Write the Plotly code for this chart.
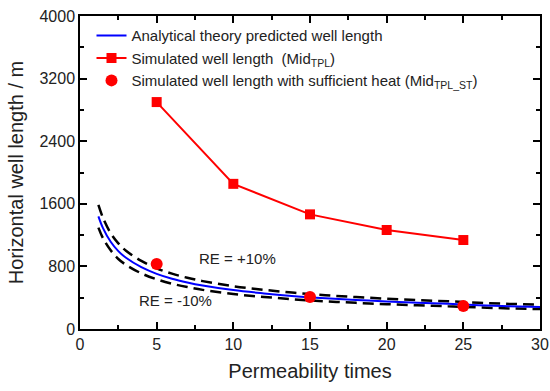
import plotly.graph_objects as go

# Analytical theory predicted well length
x_theory = [1.2, 1.5, 2, 2.5, 3, 4, 5, 6, 7, 8, 10, 12, 14, 16, 18, 20, 22, 24, 26, 28, 30]
y_theory = [1440, 1290, 1115, 995, 910, 790, 705, 643, 595, 556, 497, 455, 420, 393, 371, 352, 336, 322, 305, 292, 282]
# RE = +10% and RE = -10% bounds
y_upper = [1585, 1420, 1225, 1095, 1000, 870, 775, 707, 655, 612, 547, 500, 462, 432, 408, 387, 370, 354, 336, 321, 310]
y_lower = [1295, 1160, 1005, 895, 820, 711, 635, 579, 536, 500, 447, 410, 378, 354, 334, 317, 302, 290, 275, 263, 254]

# Simulated well length (Mid_TPL)
x_sim = [5, 10, 15, 20, 25]
y_sim = [2900, 1855, 1465, 1265, 1137]

# Simulated well length with sufficient heat (Mid_TPL_ST)
x_heat = [5, 15, 25]
y_heat = [832, 408, 295]

x_ticks = [0, 5, 10, 15, 20, 25, 30]
y_ticks = [0, 800, 1600, 2400, 3200, 4000]

FONT = "Arial, Liberation Sans, sans-serif"
TXT = "#222"

fig = go.Figure()
fig.add_trace(go.Scatter(x=x_theory, y=y_upper, mode="lines", line=dict(color="black", width=2.5, dash="11px,6px"),
                         line_shape="spline", showlegend=False, hoverinfo="skip"))
fig.add_trace(go.Scatter(x=x_theory, y=y_lower, mode="lines", line=dict(color="black", width=2.5, dash="11px,6px"),
                         line_shape="spline", showlegend=False, hoverinfo="skip"))
fig.add_trace(go.Scatter(x=x_theory, y=y_theory, mode="lines", line=dict(color="#0000ff", width=2),
                         line_shape="spline", name="Analytical theory predicted well length"))
fig.add_trace(go.Scatter(x=x_sim, y=y_sim, mode="lines+markers", line=dict(color="#ff0000", width=2),
                         marker=dict(symbol="square", size=10, color="#ff0000"),
                         name="Simulated well length  (Mid<sub>TPL</sub>)"))
fig.add_trace(go.Scatter(x=x_heat, y=y_heat, mode="markers",
                         marker=dict(symbol="circle", size=12, color="#ff0000"),
                         name="Simulated well length with sufficient heat (Mid<sub>TPL_ST</sub>)"))

fig.add_annotation(x=10.3, y=895, text="RE = +10%", showarrow=False, font=dict(size=15, color=TXT, family=FONT))
fig.add_annotation(x=6.2, y=362, text="RE = -10%", showarrow=False, font=dict(size=15, color=TXT, family=FONT))

axis_common = dict(showline=True, linecolor="black", linewidth=1.5, mirror="allticks", ticks="inside",
                   ticklen=7, tickwidth=1.5, tickcolor="black", showgrid=False, zeroline=False, automargin=False,
                   tickfont=dict(size=16, color=TXT, family=FONT))
fig.update_xaxes(range=[0, 30], tickvals=x_ticks, ticktext=[str(v) for v in x_ticks],
                 minor=dict(dtick=2.5, ticks="inside", ticklen=4, tickwidth=1.5, tickcolor="black", showgrid=False),
                 title=dict(text="Permeability times", font=dict(size=20, color=TXT, family=FONT), standoff=12),
                 **axis_common)
fig.update_yaxes(range=[0, 4000], tickvals=y_ticks, ticktext=[str(v) for v in y_ticks],
                 minor=dict(dtick=400, ticks="inside", ticklen=4, tickwidth=1.5, tickcolor="black", showgrid=False),
                 title=dict(text="Horizontal well length / m", font=dict(size=20, color=TXT, family=FONT), standoff=10),
                 **axis_common)

fig.update_layout(width=550, height=391, margin=dict(l=80, r=10, t=16, b=62),
                  plot_bgcolor="white", paper_bgcolor="white",
                  font=dict(family=FONT, color=TXT),
                  legend=dict(x=0.025, y=0.99, xanchor="left", yanchor="top", bgcolor="rgba(0,0,0,0)",
                              font=dict(size=15, color=TXT, family=FONT), tracegroupgap=0))
fig.write_html("out.html")
